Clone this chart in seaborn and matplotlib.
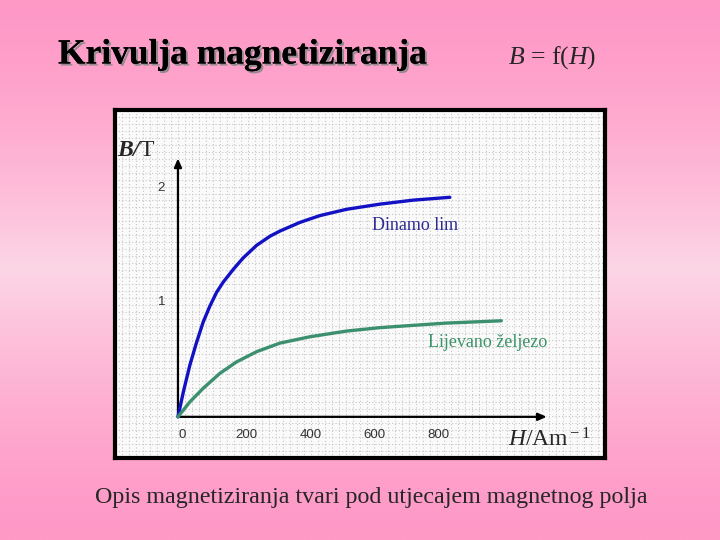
import numpy as np
import pandas as pd
import matplotlib
matplotlib.use("Agg")
import matplotlib.pyplot as plt
import matplotlib.patheffects as pe
import seaborn as sns

# krivulje magnetiziranja (ocitano sa slike)
h_dinamo = [0, 17, 37, 58, 79, 100, 121, 142, 173, 204, 246, 288, 319, 381, 412, 444, 527, 631, 735, 850]
b_dinamo = [0, 0.22, 0.45, 0.65, 0.83, 0.97, 1.09, 1.18, 1.29, 1.39, 1.50, 1.58, 1.625, 1.70, 1.73, 1.76, 1.815, 1.86, 1.895, 1.92]
h_lijev = [0, 37, 79, 131, 183, 246, 319, 412, 527, 631, 735, 840, 1011]
b_lijev = [0, 0.13, 0.25, 0.38, 0.48, 0.57, 0.645, 0.70, 0.75, 0.78, 0.80, 0.82, 0.84]
x_ticks = [0, 200, 400, 600, 800]
y_ticks = [1, 2]

df = pd.concat([
    pd.DataFrame({"H": h_dinamo, "B": b_dinamo, "mat": "Dinamo lim"}),
    pd.DataFrame({"H": h_lijev, "B": b_lijev, "mat": "Lijevano željezo"}),
])

sns.set_style("white")
plt.rcParams["font.family"] = ["Liberation Serif", "DejaVu Serif"]
plt.rcParams["mathtext.fontset"] = "custom"
plt.rcParams["mathtext.rm"] = "Liberation Serif"
plt.rcParams["mathtext.it"] = "Liberation Serif:italic"
plt.rcParams["mathtext.bf"] = "Liberation Serif:bold:italic"

fig = plt.figure(figsize=(7.2, 5.4), dpi=100)

# rozi gradijent u pozadini
bg = fig.add_axes([0, 0, 1, 1], zorder=-10)
t = np.linspace(0, 1, 256)
top = np.array([1.0, 0.60, 0.78])
mid = np.array([0.99, 0.84, 0.90])
w = 1 - np.abs(t - 0.5) * 2
grad = top[None, :] * (1 - w[:, None] ** 1.5) + mid[None, :] * (w[:, None] ** 1.5)
bg.imshow(grad[:, None, :], aspect="auto", extent=[0, 1, 0, 1])
bg.axis("off")

# naslov
fig.text(58 / 720, 1 - 55 / 540, "Krivulja magnetiziranja", fontsize=25.5, fontweight="bold",
         va="center", ha="left", color="black",
         path_effects=[pe.withSimplePatchShadow(offset=(1.5, -1.5), shadow_rgbFace="#888888", alpha=0.9),
                       pe.Normal()])
fig.text(508 / 720, 1 - 58 / 540, "$B$ = f($H$)", fontsize=18.5, va="center", ha="left")
fig.text(371 / 720, 1 - 497 / 540, "Opis magnetiziranja tvari pod utjecajem magnetnog polja",
         fontsize=17.3, va="center", ha="center")

# panel s grafom
ax = fig.add_axes([115 / 720, 1 - 458 / 540, 490 / 720, 348 / 540])
ax.set_facecolor("#fafafa")
px_h = 0.32   # px po A/m
px_b = 115.0  # px po T
ax.set_xlim((115 - 178) / px_h, (605 - 178) / px_h)
ax.set_ylim((417 - 458) / px_b, (417 - 110) / px_b)
ax.set_xticks(np.arange(-196, 1340, 7 / px_h))
ax.set_yticks(np.arange(-0.36, 2.7, 7 / px_b))
ax.set_xticklabels([])
ax.set_yticklabels([])
ax.tick_params(length=0)
ax.grid(True, color="#c6c6c6", linestyle=(0, (1, 2)), linewidth=0.8)
for s in ax.spines.values():
    s.set_color("black")
    s.set_linewidth(3)

sns.lineplot(data=df, x="H", y="B", hue="mat", palette=["#1212c4", "#3c9070"],
             sort=False, legend=False, ax=ax, linewidth=2.4, zorder=4)
ax.set_xlabel("")
ax.set_ylabel("")

# osi sa strelicama
arrow = dict(arrowstyle="-|>,head_length=0.5,head_width=0.22", color="black", lw=1.6,
             shrinkA=0, shrinkB=0)
ax.annotate("", xy=(0, 2.26), xytext=(0, 0), arrowprops=arrow, zorder=3)
ax.annotate("", xy=(1153, 0), xytext=(0, 0), arrowprops=arrow, zorder=3)

for v in x_ticks:
    ax.text(v + 14, -0.16, str(v), fontsize=9.5, ha="center", va="center",
            family="Liberation Sans", color="#333333")
for v in y_ticks:
    ax.text(-52, v, str(v), fontsize=9.5, ha="center", va="center",
            family="Liberation Sans", color="#333333")

ax.text(-192, 2.33, "$\\mathbf{B/}$T", fontsize=17, ha="left", va="center")
ax.text(1160, -0.2, "$H$/Am$^{\\rm -1}$", fontsize=17, ha="center", va="center")

ax.text(740, 1.67, "Dinamo lim", fontsize=13, ha="center", va="center", color="#2c2c94")
ax.text(968, 0.65, "Lijevano željezo", fontsize=13, ha="center", va="center", color="#3a9468")

fig.savefig("out.png", dpi=100)
